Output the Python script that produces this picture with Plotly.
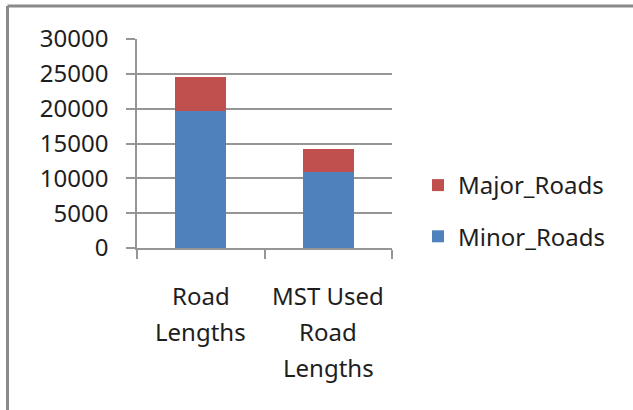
import plotly.graph_objects as go

# Road length data (stacked: minor at the bottom, major on top)
categories = ["Road Lengths", "MST Used Road Lengths"]
category_lines = [["Road", "Lengths"], ["MST Used", "Road", "Lengths"]]
minor_roads = [19700, 10900]
major_roads = [4800, 3350]
y_ticks = [0, 5000, 10000, 15000, 20000, 25000, 30000]

BLUE = "#4F81BD"
RED = "#C0504D"
GRID = "#969696"
FONT = "Noto Sans"
TEXT = "#1e1e1e"

W, H = 633, 410
ML, MR, MT, MB = 137, 241, 39, 162
plot_w = W - ML - MR
plot_h = H - MT - MB

fig = go.Figure()
fig.add_trace(go.Bar(x=categories, y=minor_roads, name="Minor_Roads",
                     marker=dict(color=BLUE, line=dict(width=0)),
                     legendgroup="minor", legendrank=2))
fig.add_trace(go.Bar(x=categories, y=major_roads, name="Major_Roads",
                     marker=dict(color=RED, line=dict(width=0)),
                     legendgroup="major", legendrank=1))

# category labels, one line each, with wide line spacing
LINE_GAP = 36
for cat, lines in zip(categories, category_lines):
    for i, txt in enumerate(lines):
        fig.add_annotation(x=cat, xref="x", y=0, yref="paper",
                           text=txt, showarrow=False,
                           xanchor="center", yanchor="middle",
                           yshift=-(47 + i * LINE_GAP),
                           font=dict(family=FONT, size=24, color=TEXT))

# outer chart frame (left and top edges visible)
fx0 = (7.5 - ML) / plot_w
fy1 = (H - MB - 6) / plot_h
fig.add_shape(type="line", xref="paper", yref="paper",
              x0=fx0, x1=fx0, y0=-2, y1=fy1,
              line=dict(color="#8a8a8a", width=3))
fig.add_shape(type="line", xref="paper", yref="paper",
              x0=fx0, x1=3, y0=fy1, y1=fy1,
              line=dict(color="#8a8a8a", width=3))

fig.update_layout(
    width=W, height=H,
    margin=dict(l=ML, r=MR, t=MT, b=MB, pad=0),
    barmode="stack", bargap=0.6,
    paper_bgcolor="white", plot_bgcolor="white",
    font=dict(family=FONT, size=24, color=TEXT),
    showlegend=True,
    legend=dict(x=(418 - ML) / plot_w, y=(H - MB - 163) / plot_h,
                xanchor="left", yanchor="top",
                traceorder="grouped", tracegroupgap=17,
                font=dict(size=24), bgcolor="rgba(0,0,0,0)"),
    xaxis=dict(showgrid=False, showline=True, linecolor=GRID, linewidth=1.5,
               ticks="outside", tickson="boundaries", ticklen=9,
               tickcolor=GRID, tickwidth=1.5, showticklabels=False),
    yaxis=dict(range=[0, 30000], tickvals=y_ticks,
               ticktext=[str(v) for v in y_ticks],
               showgrid=True, gridcolor=GRID, gridwidth=1.5,
               showline=True, linecolor=GRID, linewidth=1.5,
               ticks="outside", ticklen=9, tickcolor=GRID, tickwidth=1.5,
               zeroline=False, ticklabelstandoff=13),
)

fig.write_html("out.html")
